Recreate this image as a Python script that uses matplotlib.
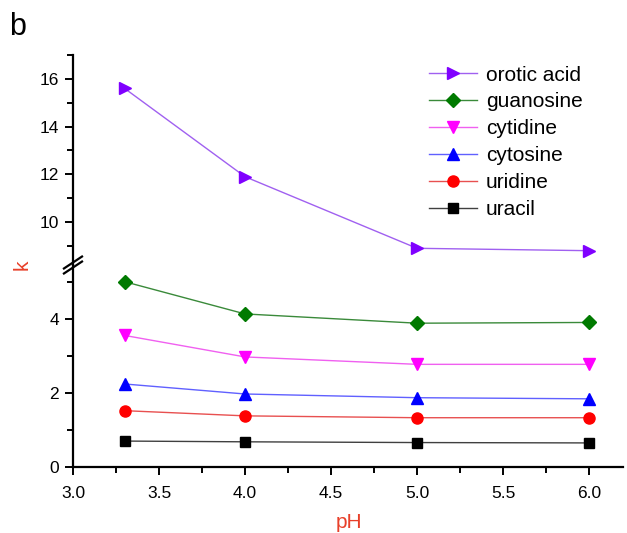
import matplotlib
matplotlib.use("Agg")
import matplotlib.pyplot as plt
from matplotlib.ticker import MultipleLocator
from matplotlib.lines import Line2D

plt.rcParams['font.family'] = ['Liberation Sans', 'DejaVu Sans']

# data
ph = [3.3, 4.0, 5.0, 6.0]
orotic_acid = [15.6, 11.9, 8.9, 8.8]
guanosine = [5.0, 4.13, 3.88, 3.9]
cytidine = [3.55, 2.97, 2.77, 2.77]
cytosine = [2.24, 1.97, 1.87, 1.84]
uridine = [1.52, 1.38, 1.33, 1.33]
uracil = [0.70, 0.68, 0.66, 0.65]

names = ['orotic acid', 'guanosine', 'cytidine', 'cytosine', 'uridine', 'uracil']
series = [orotic_acid, guanosine, cytidine, cytosine, uridine, uracil]
markers = ['>', 'D', 'v', '^', 'o', 's']
mcolors = ['#8000ff', '#007a00', '#ff00ff', '#0000ff', '#ff0000', '#000000']
lcolors = ['#a060f0', '#3a8a3a', '#f060f0', '#6060ff', '#e85050', '#404040']
msizes = [9, 7, 9, 9, 8, 7]

fig = plt.figure(figsize=(6.27, 5.33), dpi=100)
ax_top = fig.add_axes([0.1164, 0.5028, 0.878, 0.394])
ax_bot = fig.add_axes([0.1164, 0.1238, 0.878, 0.379])

for ax in (ax_top, ax_bot):
    for i in range(len(names)):
        ax.plot(ph, series[i], color=lcolors[i], lw=1.0, marker=markers[i],
                ms=msizes[i], mfc=mcolors[i], mec=mcolors[i], label=names[i])
    ax.set_xlim(3.0, 6.2)
    ax.spines['top'].set_visible(False)
    ax.spines['right'].set_visible(False)
    ax.spines['left'].set_linewidth(1.6)
    ax.tick_params(axis='both', which='major', direction='out', length=6, width=1.4,
                   labelsize=12.5, pad=4)
    ax.tick_params(axis='both', which='minor', direction='out', length=4, width=1.4)
    ax.yaxis.set_minor_locator(MultipleLocator(1))

ax_top.set_ylim(8.2, 17)
ax_top.yaxis.set_major_locator(MultipleLocator(2))
ax_top.yaxis.set_major_formatter(plt.FuncFormatter(lambda v, p: '%d' % v if v >= 10 else ''))
ax_top.spines['bottom'].set_visible(False)
ax_top.tick_params(axis='x', which='both', bottom=False, labelbottom=False)

ax_bot.set_ylim(0, 5.45)
ax_bot.yaxis.set_major_locator(MultipleLocator(2))
ax_bot.xaxis.set_major_locator(MultipleLocator(0.5))
ax_bot.xaxis.set_minor_locator(MultipleLocator(0.25))
ax_bot.xaxis.set_major_formatter(plt.FuncFormatter(lambda v, p: '%.1f' % v))
ax_bot.spines['bottom'].set_linewidth(1.6)
ax_bot.tick_params(axis='x', which='major', pad=8)

# axis labels
fig.text(0.557, 0.0206, 'pH', color='#e8402a', fontsize=15, ha='center', va='center')
fig.text(0.035, 0.503, 'k', color='#e8402a', fontsize=15, rotation=90,
         ha='center', va='center')

# break marks on the y axis
yb = 0.5028
for dy in (-0.0047, 0.0047):
    fig.add_artist(Line2D([0.1164 - 0.0144, 0.1164 + 0.0144], [yb + dy - 0.0112, yb + dy + 0.0112],
                          color='black', lw=1.6))

handles, labels = ax_top.get_legend_handles_labels()
fig.legend(handles, labels, loc='upper left', bbox_to_anchor=(0.685, 0.877), frameon=False,
           fontsize=15, handlelength=2.3, labelspacing=0.38, handletextpad=0.4,
           borderaxespad=0, borderpad=0)

fig.text(0.015, 0.935, 'b', fontsize=22)

fig.savefig('out.png', dpi=100)
